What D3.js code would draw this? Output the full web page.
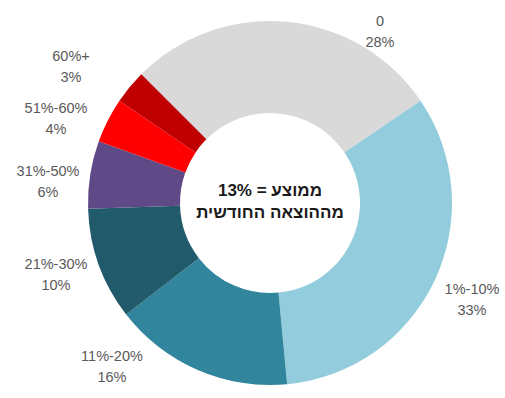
<!DOCTYPE html>
<html>
<head>
<meta charset="utf-8">
<script src="https://cdn.jsdelivr.net/npm/d3@7"></script>
<style>
  html, body { margin: 0; padding: 0; background: #ffffff; }
  svg { display: block; }
</style>
</head>
<body>
<svg id="chart" width="505" height="398"></svg>
<script>
// Share of monthly spending, by bracket
const categories = ["0", "1%-10%", "11%-20%", "21%-30%", "31%-50%", "51%-60%", "60%+"];
const shares = [28, 33, 16, 10, 6, 4, 3];
const centerLines = ["ממוצע = 13%", "מההוצאה החודשית"];

const colors = ["#d9d9d9", "#93cddd", "#31859c", "#215a6a", "#5f4a87", "#ff0000", "#c00000"];
// label anchor for each slice (centre of the two-line label)
const labelAnchors = [[380, 32], [472, 300], [112, 367], [56, 275], [48, 182], [56, 119], [71, 67]];

const width = 505, height = 398;
const cx = 270, cy = 203;
const outerR = 182, innerR = 90;

const svg = d3.select("#chart");
const g = svg.append("g").attr("transform", `translate(${cx},${cy})`);

const pie = d3.pie()
  .sort(null)
  .value(d => d)
  .startAngle(-Math.PI / 4)
  .endAngle(-Math.PI / 4 + 2 * Math.PI);

const arc = d3.arc().innerRadius(innerR).outerRadius(outerR);

const arcs = pie(shares);

g.selectAll("path.slice")
  .data(arcs)
  .join("path")
  .attr("class", "slice")
  .attr("d", arc)
  .attr("fill", (d, i) => colors[i]);

// outside labels: category and share
const labels = svg.append("g")
  .attr("font-family", "'Liberation Sans', Arial, sans-serif")
  .attr("font-size", 14.5)
  .attr("fill", "#595959")
  .attr("text-anchor", "middle");

arcs.forEach((d, i) => {
  const [lx, ly] = labelAnchors[i];
  const t = labels.append("text").attr("x", lx).attr("y", ly);
  t.append("tspan").attr("x", lx).attr("dy", "-0.42em").text(categories[i]);
  t.append("tspan").attr("x", lx).attr("dy", "1.45em").text(d3.format("d")(d.data) + "%");
});

// centre caption
const caption = svg.append("text")
  .attr("x", cx)
  .attr("y", cy)
  .attr("font-family", "'Liberation Sans', Arial, sans-serif")
  .attr("font-size", 17)
  .attr("font-weight", "bold")
  .attr("fill", "#1a1a1a")
  .attr("text-anchor", "middle")
  .attr("direction", "rtl");

caption.append("tspan").attr("x", cx).attr("dy", "-0.42em").text(centerLines[0]);
caption.append("tspan").attr("x", cx).attr("dy", "1.3em").text(centerLines[1]);
</script>
</body>
</html>
